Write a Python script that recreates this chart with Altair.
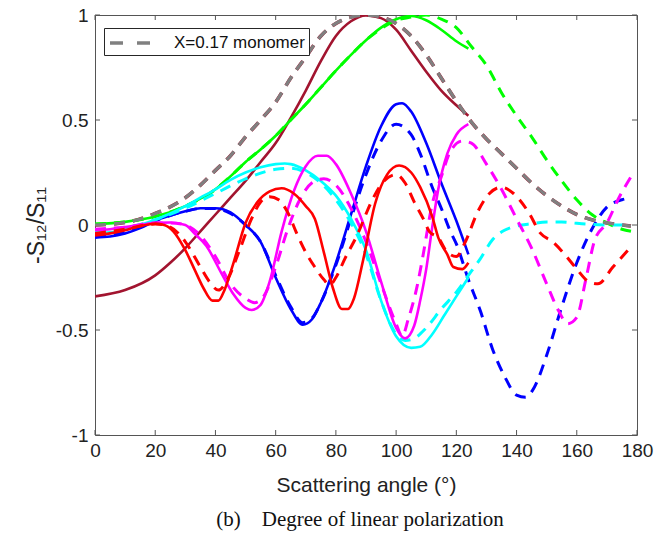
import altair as alt
import pandas as pd

# ---------------- data ----------------
x_ticks = [0, 20, 40, 60, 80, 100, 120, 140, 160, 180]
y_ticks = [-1, -0.5, 0, 0.5, 1]
legend_label = "X=0.17 monomer"

mono_x = [0, 10, 20, 30, 35, 40, 45, 50, 55, 60, 65, 70, 75, 80, 85, 90, 95, 100, 105, 110,
          115, 120, 125, 130, 135, 140, 145, 150, 155, 160, 165, 170, 175, 178]
mono_y = [0.0, 0.012, 0.055, 0.13, 0.19, 0.26, 0.33, 0.42, 0.50, 0.585, 0.70, 0.80, 0.90, 0.96,
          0.99, 1.0, 0.99, 0.96, 0.90, 0.81, 0.70, 0.59, 0.49, 0.41, 0.34, 0.27, 0.20, 0.14,
          0.09, 0.05, 0.025, 0.01, 0.0, -0.005]

dred_x = [0, 10, 20, 25, 30, 35, 40, 45, 50, 55, 60, 65, 70, 75, 80, 85, 90, 95, 100, 105,
          110, 115, 120, 124]
dred_y = [-0.34, -0.31, -0.24, -0.18, -0.11, -0.03, 0.05, 0.13, 0.21, 0.30, 0.39, 0.51, 0.64,
          0.78, 0.90, 0.97, 0.998, 0.985, 0.93, 0.83, 0.73, 0.64, 0.57, 0.52]

green_x = [0, 10, 20, 30, 40, 46, 50, 55, 60, 65, 70, 75, 80, 85, 90, 95, 100, 105, 110, 115,
           120, 124]
green_y = [0.005, 0.015, 0.04, 0.09, 0.17, 0.245, 0.30, 0.36, 0.425, 0.50, 0.575, 0.655, 0.735,
           0.81, 0.88, 0.94, 0.98, 0.995, 0.975, 0.93, 0.875, 0.84]
green_d_x = [0, 10, 20, 30, 40, 46, 50, 55, 60, 65, 70, 75, 80, 85, 90, 95, 100, 105, 110, 115,
             120, 125, 130, 135, 140, 145, 150, 155, 160, 165, 170, 175, 178]
green_d_y = [0.005, 0.015, 0.04, 0.09, 0.17, 0.245, 0.30, 0.36, 0.425, 0.50, 0.575, 0.655, 0.735,
             0.81, 0.88, 0.935, 0.975, 0.99, 1.0, 0.98, 0.94, 0.85, 0.76, 0.63, 0.52, 0.42,
             0.31, 0.21, 0.12, 0.05, 0.01, -0.02, -0.03]

blue_x = [0, 5, 10, 15, 20, 25, 30, 35, 40, 45, 50, 55, 60, 65, 69, 72, 75, 80, 85, 90, 95,
          100, 102, 105, 110, 115, 120, 124]
blue_y = [-0.06, -0.055, -0.04, -0.015, 0.02, 0.045, 0.065, 0.08, 0.08, 0.06, 0.0, -0.08,
          -0.25, -0.40, -0.475, -0.45, -0.37, -0.18, 0.05, 0.28, 0.47, 0.575, 0.58, 0.54, 0.39,
          0.20, 0.02, -0.14]
blue_d_x = [0, 5, 10, 15, 20, 25, 30, 35, 40, 45, 50, 55, 60, 65, 69, 72, 75, 80, 85, 90, 95,
            100, 105, 108, 112, 115, 118, 120, 124, 128, 132, 136, 140, 143, 146, 150, 155, 160,
            165, 170, 175, 178]
blue_d_y = [-0.055, -0.05, -0.035, -0.01, 0.02, 0.045, 0.065, 0.078, 0.078, 0.055, 0.0, -0.08,
            -0.24, -0.39, -0.465, -0.445, -0.37, -0.19, 0.03, 0.24, 0.40, 0.48, 0.43, 0.34,
            0.18, 0.08, -0.03, -0.09, -0.26, -0.41, -0.59, -0.72, -0.81, -0.82, -0.77, -0.62,
            -0.39, -0.18, -0.02, 0.085, 0.12, 0.13]

cyan_x = [0, 5, 10, 15, 20, 25, 30, 35, 40, 45, 50, 55, 60, 63, 65, 70, 75, 80, 85, 90, 95,
          100, 105, 108, 112, 116, 120, 124]
cyan_y = [-0.04, -0.035, -0.02, 0.0, 0.025, 0.055, 0.09, 0.13, 0.17, 0.215, 0.25, 0.275, 0.29,
          0.293, 0.29, 0.26, 0.21, 0.14, 0.03, -0.12, -0.36, -0.53, -0.585, -0.58, -0.52,
          -0.43, -0.34, -0.25]
cyan_d_x = [0, 10, 20, 30, 40, 50, 60, 65, 70, 75, 80, 85, 90, 95, 100, 103, 106, 110, 115,
            120, 125, 128, 132, 136, 140, 145, 150, 155, 160, 170, 178]
cyan_d_y = [-0.03, -0.015, 0.025, 0.08, 0.15, 0.22, 0.265, 0.27, 0.25, 0.20, 0.12, 0.01,
            -0.14, -0.36, -0.52, -0.55, -0.54, -0.49, -0.40, -0.32, -0.22, -0.16, -0.07,
            -0.025, -0.005, 0.006, 0.014, 0.014, 0.008, 0.0, 0.0]

mag_x = [0, 5, 10, 15, 20, 25, 30, 33, 37, 42, 46, 50, 52, 55, 58, 62, 66, 70, 74, 77, 80,
         85, 90, 95, 100, 103, 106, 108, 110, 112, 114, 117, 120, 124]
mag_y = [-0.025, -0.02, -0.01, 0.0, 0.01, 0.012, 0.0, -0.04, -0.10, -0.23, -0.33, -0.395,
         -0.405, -0.38, -0.27, -0.03, 0.16, 0.28, 0.33, 0.33, 0.29, 0.15, -0.03, -0.27, -0.49,
         -0.54, -0.48, -0.36, -0.21, -0.01, 0.17, 0.34, 0.43, 0.48]
mag_d_x = [0, 10, 20, 25, 30, 35, 40, 45, 50, 53, 56, 60, 64, 68, 72, 76, 80, 85, 90, 95, 100,
           102, 104, 107, 109, 112, 115, 118, 122, 125, 130, 135, 140, 145, 150, 154, 157, 160,
           163, 166, 170, 174, 178]
mag_d_y = [-0.02, -0.01, 0.01, 0.01, 0.0, -0.05, -0.15, -0.28, -0.35, -0.37, -0.34, -0.20,
           -0.02, 0.12, 0.20, 0.22, 0.19, 0.08, -0.08, -0.28, -0.47, -0.53, -0.45, -0.29,
           -0.14, 0.10, 0.23, 0.35, 0.40, 0.39, 0.29, 0.17, 0.03, -0.11, -0.28, -0.41, -0.47,
           -0.44, -0.26, -0.07, 0.01, 0.13, 0.23]

red_x = [0, 5, 10, 15, 20, 23, 26, 30, 33, 36, 39, 41, 43, 46, 50, 54, 58, 62, 66, 70, 73, 76,
         79, 82, 84, 86, 89, 93, 97, 101, 105, 108, 112, 114, 117, 119, 122, 124]
red_y = [-0.05, -0.04, -0.025, -0.005, 0.006, 0.0, -0.03, -0.12, -0.21, -0.30, -0.36, -0.36,
         -0.31, -0.18, 0.01, 0.11, 0.16, 0.175, 0.15, 0.09, 0.03, -0.13, -0.30, -0.40, -0.40,
         -0.35, -0.17, 0.10, 0.24, 0.283, 0.25, 0.18, 0.04, -0.06, -0.14, -0.20, -0.21, -0.18]
red_d_x = [0, 10, 20, 25, 30, 35, 38, 41, 44, 48, 52, 55, 58, 61, 64, 67, 70, 73, 76, 78, 80,
           83, 87, 92, 96, 100, 103, 106, 109, 111, 114, 117, 120, 123, 127, 131, 135, 139,
           144, 148, 152, 156, 160, 164, 167, 172, 177]
red_d_y = [-0.04, -0.02, 0.005, -0.01, -0.08, -0.20, -0.27, -0.31, -0.26, -0.12, 0.03, 0.11,
           0.135, 0.12, 0.06, -0.04, -0.13, -0.20, -0.26, -0.285, -0.25, -0.16, -0.05, 0.117,
           0.21, 0.24, 0.20, 0.11, 0.03, -0.03, -0.06, -0.13, -0.15, -0.08, 0.06, 0.15, 0.18,
           0.15, 0.06, -0.04, -0.08, -0.14, -0.21, -0.27, -0.28, -0.20, -0.12]

# ---------------- styling ----------------
W, H = 542, 420
AX = "#555555"
SANS = "Liberation Sans"
DASH = [11, 8]

x_scale = alt.Scale(domain=[0, 180], nice=False, zero=False)
y_scale = alt.Scale(domain=[-1, 1], nice=False, zero=False)

x_axis = alt.Axis(values=x_ticks, title="Scattering angle (°)", ticks=False, domain=False,
                  grid=False, labelFlush=False, labelOverlap=False, labelPadding=6,
                  titlePadding=14)
y_axis = alt.Axis(values=y_ticks, title="-S₁₂/S₁₁", ticks=False, domain=False, grid=False,
                  labelExpr="'' + datum.value", labelPadding=7, titlePadding=7,
                  labelOverlap=False, titleFontSize=23)


def curve(xs, ys, color, dash=None, width=2.6):
    df = pd.DataFrame({"x": xs, "y": ys})
    kw = dict(color=color, strokeWidth=width, interpolate="monotone", clip=True)
    if dash:
        kw["strokeDash"] = dash
    return alt.Chart(df).mark_line(**kw).encode(
        x=alt.X("x:Q", scale=x_scale, axis=x_axis),
        y=alt.Y("y:Q", scale=y_scale, axis=y_axis),
    )


mono_df = pd.DataFrame({"x": mono_x, "y": mono_y, "lab": [legend_label] * len(mono_x)})
mono = alt.Chart(mono_df).mark_line(strokeWidth=3.2, strokeDash=DASH, interpolate="monotone",
                                    clip=True).encode(
    x=alt.X("x:Q", scale=x_scale, axis=x_axis),
    y=alt.Y("y:Q", scale=y_scale, axis=y_axis),
    color=alt.Color("lab:N", scale=alt.Scale(domain=[legend_label], range=["#808080"]),
                    legend=alt.Legend(title=None, orient="none", legendX=9, legendY=13,
                                      fillColor="white", strokeColor="#262626", padding=4,
                                      symbolType="M-2.2222,0H2.2222", symbolSize=324,
                                      symbolOffset=11, symbolStrokeWidth=3.5,
                                      symbolDash=[13, 14], symbolFillColor="transparent",
                                      labelFont=SANS, labelFontSize=17, labelColor="#111111",
                                      labelOffset=33, labelLimit=400)),
)

tx = pd.DataFrame({"t": x_ticks})
ty = pd.DataFrame({"t": y_ticks})
tick_layers = [
    alt.Chart(tx).mark_rule(color=AX, strokeWidth=1).encode(
        x=alt.X("t:Q", scale=x_scale, axis=x_axis), y=alt.value(H), y2=alt.value(H - 5)),
    alt.Chart(tx).mark_rule(color=AX, strokeWidth=1).encode(
        x=alt.X("t:Q", scale=x_scale, axis=x_axis), y=alt.value(0), y2=alt.value(5)),
    alt.Chart(ty).mark_rule(color=AX, strokeWidth=1).encode(
        y=alt.Y("t:Q", scale=y_scale, axis=y_axis), x=alt.value(0), x2=alt.value(5)),
    alt.Chart(ty).mark_rule(color=AX, strokeWidth=1).encode(
        y=alt.Y("t:Q", scale=y_scale, axis=y_axis), x=alt.value(W), x2=alt.value(W - 5)),
]

DRED = "#A2142F"
layers = tick_layers + [
    curve(mono_x, mono_y, DRED, DASH, 3.6),
    curve(dred_x, dred_y, DRED),
    curve(green_x, green_y, "#00FF00"),
    curve(green_d_x, green_d_y, "#00FF00", DASH, 3),
    curve(blue_x, blue_y, "#0000FF"),
    curve(blue_d_x, blue_d_y, "#0000FF", DASH, 3),
    curve(cyan_x, cyan_y, "#00FFFF"),
    curve(cyan_d_x, cyan_d_y, "#00FFFF", DASH, 3),
    curve(mag_x, mag_y, "#FF00FF"),
    curve(mag_d_x, mag_d_y, "#FF00FF", DASH, 3),
    curve(red_x, red_y, "#FF0000"),
    curve(red_d_x, red_d_y, "#FF0000", DASH, 3),
    mono,
]

chart = alt.layer(*layers).properties(
    width=W, height=H,
    autosize="none",
    padding={"left": 95, "top": 15, "right": 33, "bottom": 100},
    background="white",
    title=alt.TitleParams("(b)\u00a0\u00a0\u00a0 Degree of linear polarization", orient="bottom",
                          anchor="middle", font="Liberation Serif", fontSize=21,
                          fontWeight="normal", color="#111111", offset=14, dx=-6),
).configure_view(stroke=AX, strokeWidth=1).configure_axis(
    labelFont=SANS, labelFontSize=19, labelColor="#222222",
    titleFont=SANS, titleFontSize=21, titleFontWeight="normal", titleColor="#222222",
)

chart.save("out.html", embed_options={"renderer": "svg", "actions": False})
